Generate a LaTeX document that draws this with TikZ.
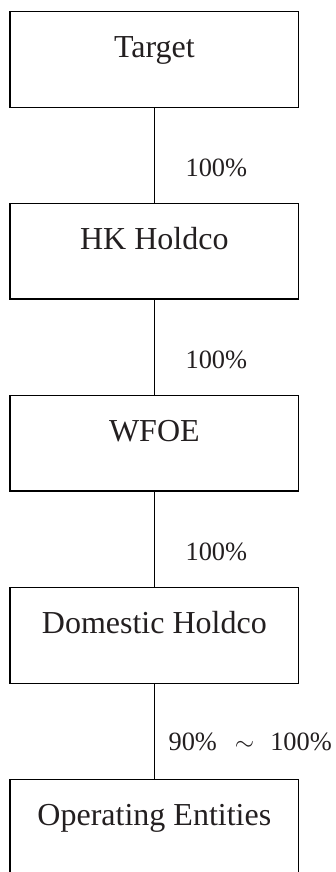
\documentclass[tikz,border=0pt]{standalone}
\usepackage{fontspec}
\setmainfont{Liberation Serif}
\usetikzlibrary{calc}
\definecolor{textgray}{HTML}{231F20}
\begin{document}
\begin{tikzpicture}[x=1pt,y=1pt,
  entity/.style={draw=black, line width=1.4pt, minimum width=288.7pt, minimum height=95.6pt,
    inner sep=0pt, font=\fontsize{32}{38}\selectfont, text=textgray,
    text height=12pt, text depth=16pt},
  pct/.style={anchor=base west, inner sep=0pt, font=\fontsize{26.4}{30}\selectfont, text=textgray},
  link/.style={line width=1.4pt, draw=black}]
\useasboundingbox (0,0) rectangle (335,872);
\clip (0,0) rectangle (335,872);
\node[entity] (t) at (154.35,812.5) {Target};
\node[entity] (hk) at (154.35,620.7) {HK Holdco};
\node[entity] (w) at (154.35,428.6) {WFOE};
\node[entity] (d) at (154.35,236.5) {Domestic Holdco};
\node[entity] (o) at (154.35,44.9) {Operating Entities};
\draw[link] (t.south) -- (hk.north);
\draw[link] (hk.south) -- (w.north);
\draw[link] (w.south) -- (d.north);
\draw[link] (d.south) -- (o.north);
\node[pct] (p1) at ($(t.south)+(31,-68.4)$) {100\%};
\node[pct] (p2) at ($(hk.south)+(31,-68.4)$) {100\%};
\node[pct] (p3) at ($(w.south)+(31,-68.4)$) {100\%};
\node[pct] (p4) at ($(d.south)+(14,-66.7)$) {90\%\hspace{18pt}{\fontsize{32}{32}\selectfont$\sim$}\hspace{16pt}100\%};
\end{tikzpicture}
\end{document}
